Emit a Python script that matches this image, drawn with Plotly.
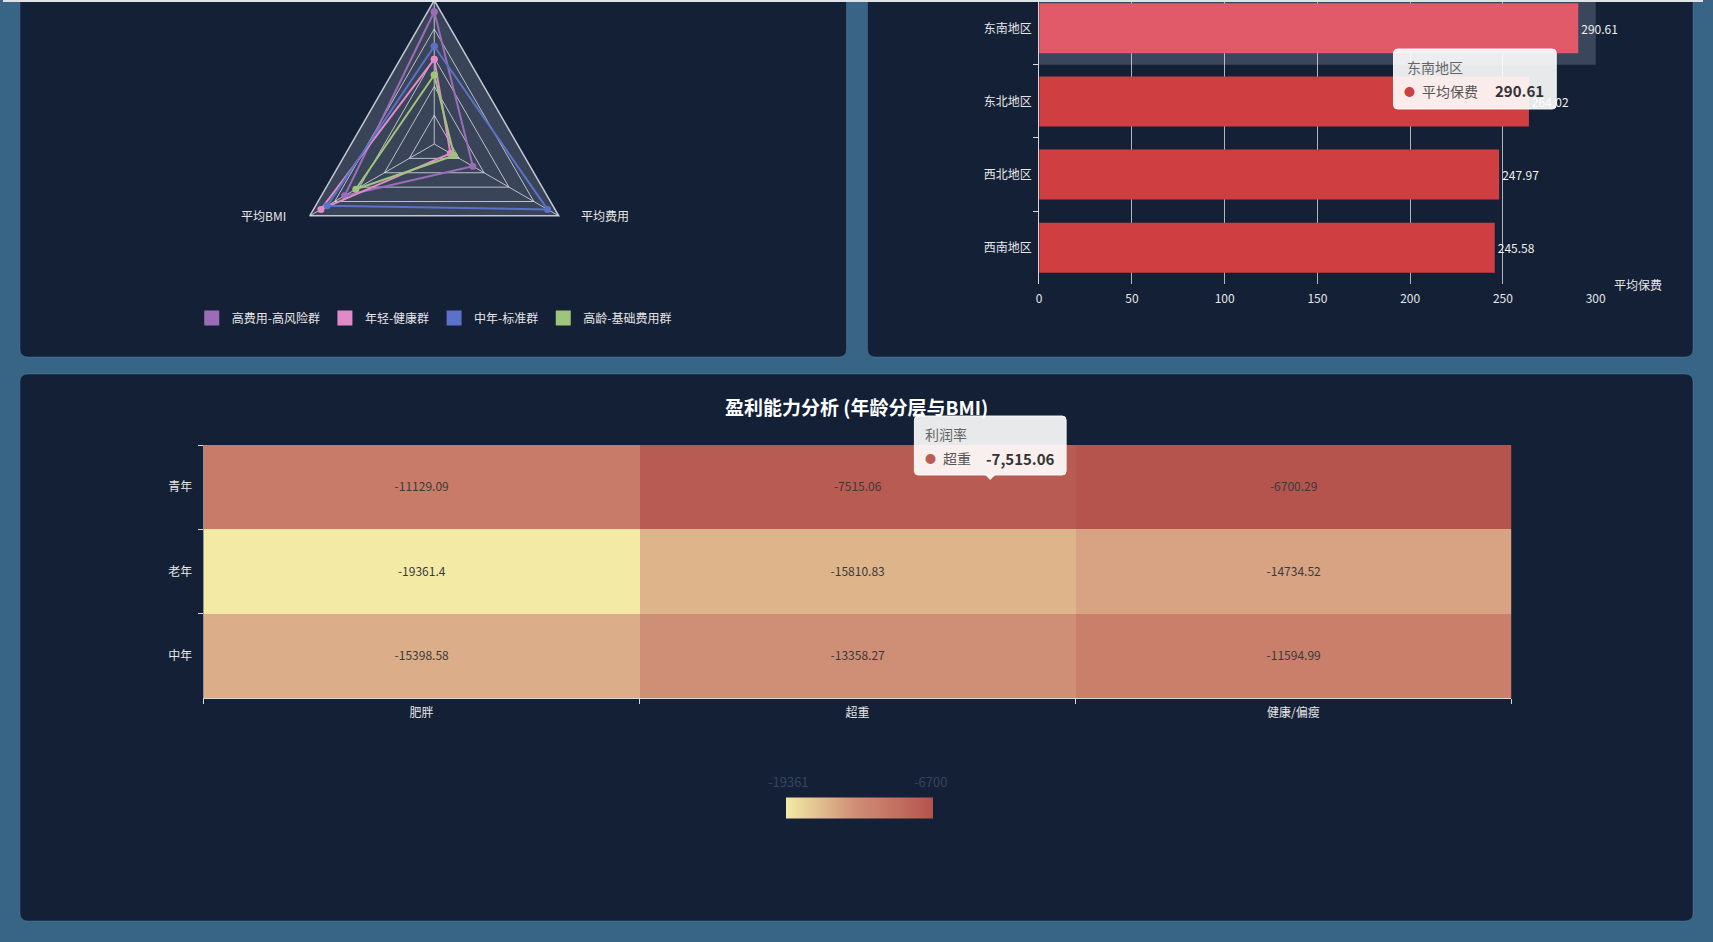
import plotly.graph_objects as go

W, H = 1713, 942
XW = 1703          # effective horizontal extent observed when the page is rendered
FONT = "Noto Sans CJK SC, Noto Sans, sans-serif"

# ---------------- data ----------------
radar_axes = ['平均保费', '平均费用', '平均BMI']          # top label is off-screen in the reference
radar_groups = ['高费用-高风险群', '年轻-健康群', '中年-标准群', '高龄-基础费用群']
high_risk = [92, 31, 72]          # % of each indicator's max
young_healthy = [59, 13, 91]
middle_standard = [68, 91, 86]
senior_basic = [48, 16, 63]
radar_colors = ['#9b6cb8', '#e08bc8', '#5b72c8', '#9ec67a']

regions = ['东南地区', '东北地区', '西北地区', '西南地区']
avg_premium = [290.61, 264.02, 247.97, 245.58]

age_groups = ['青年', '老年', '中年']
bmi_groups = ['肥胖', '超重', '健康/偏瘦']
profit_youth = [-11129.09, -7515.06, -6700.29]
profit_senior = [-19361.4, -15810.83, -14734.52]
profit_middle = [-15398.58, -13358.27, -11594.99]


# ---------------- helpers ----------------
def px(x):
    return x / XW


def py(y):
    return 1 - y / H


def rrect(x0, y0, x1, y1, r=8):
    return (f"M{px(x0 + r)},{py(y0)} L{px(x1 - r)},{py(y0)} "
            f"Q{px(x1)},{py(y0)} {px(x1)},{py(y0 + r)} L{px(x1)},{py(y1 - r)} "
            f"Q{px(x1)},{py(y1)} {px(x1 - r)},{py(y1)} L{px(x0 + r)},{py(y1)} "
            f"Q{px(x0)},{py(y1)} {px(x0)},{py(y1 - r)} L{px(x0)},{py(y0 + r)} "
            f"Q{px(x0)},{py(y0)} {px(x0 + r)},{py(y0)} Z")


fig = go.Figure()

# ---------------- radar ----------------
series = [high_risk, young_healthy, middle_standard, senior_basic]
for name, vals, col in zip(radar_groups, series, radar_colors):
    fig.add_trace(go.Scatterpolar(
        r=vals + [vals[0]], theta=radar_axes + [radar_axes[0]],
        mode='lines+markers', name=name, showlegend=False,
        line=dict(color=col, width=2), marker=dict(color=col, size=7),
        subplot='polar'))
for name, col in zip(radar_groups, radar_colors):
    fig.add_trace(go.Scatterpolar(
        r=[None], theta=[None], mode='markers', name=name, showlegend=True,
        marker=dict(color=col, size=15, symbol='square'), subplot='polar'))

# ---------------- bar ----------------
bar_colors = ['#e05a69'] + ['#cf3e40'] * (len(regions) - 1)
fig.add_trace(go.Bar(
    x=avg_premium, y=regions, orientation='h', xaxis='x2', yaxis='y2',
    marker=dict(color=bar_colors, line=dict(width=0)),
    texttemplate='%{x:.2f}', textposition='outside', cliponaxis=False,
    textfont=dict(color='#f0f0f0', size=12), showlegend=False, name='平均保费'))

# ---------------- heatmap ----------------
z = [profit_youth, profit_senior, profit_middle]
zmin = min(min(r) for r in z)
zmax = max(max(r) for r in z)
fig.add_trace(go.Heatmap(
    z=z, x=bmi_groups, y=age_groups, xaxis='x3', yaxis='y3',
    text=[[str(v) for v in row] for row in z], texttemplate='%{text}',
    textfont=dict(color='#3a3a3a', size=12),
    zmin=zmin, zmax=zmax,
    colorscale=[[0, '#f3eaa6'], [0.3, '#dcb089'], [0.47, '#cf8e76'],
                [0.62, '#ca7e6b'], [1, '#b4544d']],
    colorbar=dict(orientation='h', x=px(858), xanchor='center', y=py(807.5), yanchor='middle',
                  thickness=21, len=167, lenmode='pixels', outlinewidth=0, xpad=10, ypad=0,
                  showticklabels=False, ticks=''),
    showlegend=False, name='利润率'))

axis_font = dict(color='#e6e6e6', size=12, family=FONT)
panel_line = dict(color='rgba(90,150,200,0.35)', width=1)
tip_fill = 'rgba(255,255,255,0.9)'

shapes = [
    dict(type='path', xref='paper', yref='paper', path=rrect(17, -30, 845, 357),
         fillcolor='#142036', line=panel_line, layer='below'),
    dict(type='path', xref='paper', yref='paper', path=rrect(866, -30, 1693, 357),
         fillcolor='#142036', line=panel_line, layer='below'),
    dict(type='path', xref='paper', yref='paper', path=rrect(17, 374, 1693, 921),
         fillcolor='#142036', line=panel_line, layer='below'),
    # hover shadow band on the first bar category
    dict(type='rect', xref='x2 domain', yref='y2', x0=0, x1=1, y0=-0.5, y1=0.5,
         fillcolor='rgba(150,160,180,0.3)', line=dict(width=0), layer='below'),
    # tooltip boxes visible in the reference
    dict(type='path', xref='paper', yref='paper', path=rrect(1393, 49, 1556, 109, 4),
         fillcolor=tip_fill, line=dict(color='rgba(255,255,255,0.9)', width=1), layer='above'),
    dict(type='path', xref='paper', yref='paper', path=rrect(913, 416, 1065, 475, 4),
         fillcolor=tip_fill, line=dict(color='rgba(255,255,255,0.9)', width=1), layer='above'),
    dict(type='path', xref='paper', yref='paper',
         path=f"M{px(984)},{py(475)} L{px(994)},{py(475)} L{px(989)},{py(480)} Z",
         fillcolor=tip_fill, line=dict(width=0), layer='above'),
    # thin light line at the very top of the page
    dict(type='line', xref='paper', yref='paper', x0=0, x1=1, y0=py(1), y1=py(1),
         line=dict(color='#dfe3e8', width=2), layer='above'),
]


def txt(text, x, y, anchor='left', color='#555555', size=14, bold=False):
    t = f"<b>{text}</b>" if bold else text
    return dict(text=t, xref='paper', yref='paper', x=px(x), y=py(y), xanchor=anchor,
                yanchor='middle', showarrow=False, font=dict(color=color, size=size, family=FONT))


annotations = [
    txt('盈利能力分析 (年龄分层与BMI)', 855, 406, anchor='center', color='#ffffff', size=19, bold=True),
    txt(f"{zmin:.0f}", 787, 781, anchor='center', color='#34455c', size=13),
    txt(f"{zmax:.0f}", 929, 781, anchor='center', color='#34455c', size=13),
    dict(text='平均保费', xref='x2 domain', yref='y2 domain', x=1, y=0, xshift=16,
         xanchor='left', yanchor='middle', showarrow=False,
         font=dict(color='#e6e6e6', size=12, family=FONT)),
    # radar axis names (bottom two; the top one is off-screen)
    txt(radar_axes[2], 286, 215, anchor='right', color='#e6e6e6', size=12),
    txt(radar_axes[1], 577, 215, anchor='left', color='#e6e6e6', size=12),
    # tooltip 1 (bar chart)
    txt(regions[0], 1404, 67, color='#666666'),
    txt('●', 1409, 91, anchor='center', color='#cf3e40', size=11),
    txt('平均保费', 1420, 91, color='#555555'),
    txt(f"{avg_premium[0]:.2f}", 1546, 91, anchor='right', color='#333333', size=15, bold=True),
    # tooltip 2 (heatmap)
    txt('利润率', 922, 434, color='#666666'),
    txt('●', 929, 458, anchor='center', color='#b85d52', size=11),
    txt(bmi_groups[1], 940, 458, color='#555555'),
    txt(f"{profit_youth[1]:,.2f}", 1056, 458, anchor='right', color='#333333', size=15, bold=True),
]

fig.update_layout(
    width=W, height=H, margin=dict(l=0, r=0, t=0, b=0),
    paper_bgcolor='#386485', plot_bgcolor='rgba(0,0,0,0)',
    font=dict(family=FONT, color='#e6e6e6', size=12),
    shapes=shapes, annotations=annotations, bargap=0.316,
    legend=dict(orientation='h', x=px(432), xanchor='center', y=py(318), yanchor='middle',
                font=dict(color='#e6e6e6', size=12, family=FONT), bgcolor='rgba(0,0,0,0)',
                itemwidth=30, tracegroupgap=0),
    polar=dict(
        domain=dict(x=[px(432 - 144), px(432 + 144)], y=[py(288), 1]),
        bgcolor='rgba(210,215,225,0.2)', gridshape='linear',
        radialaxis=dict(range=[0, 100], dtick=20, showticklabels=False, ticks='',
                        showline=False, gridcolor='rgba(220,224,230,0.8)', gridwidth=1),
        angularaxis=dict(rotation=90, direction='clockwise', showline=True,
                         showticklabels=False,
                         linecolor='rgba(220,224,230,0.85)', linewidth=1.5,
                         gridcolor='rgba(220,224,230,0.8)', ticks='')),
    xaxis2=dict(domain=[px(1038), px(1595.5)], anchor='y2', range=[0, 300], dtick=50,
                showgrid=True, gridcolor='rgba(215,220,228,0.8)', zeroline=False,
                showline=False, ticks='', tickfont=axis_font, ticklabelstandoff=6),
    yaxis2=dict(domain=[py(284.25), 1], anchor='x2', type='category',
                categoryorder='array', categoryarray=regions, range=[3.5, -0.387],
                showline=True, linecolor='#d8d8d8', ticks='outside', tickson='boundaries',
                ticklen=5, tickcolor='#d8d8d8', showgrid=False, zeroline=False,
                tickfont=axis_font, ticklabelstandoff=4),
    xaxis3=dict(domain=[px(201), px(1511)], anchor='y3', type='category',
                categoryorder='array', categoryarray=bmi_groups,
                showline=True, linecolor='#d8d8d8', ticks='outside', tickson='boundaries',
                ticklen=5, tickcolor='#d8d8d8', showgrid=False, zeroline=False,
                tickfont=axis_font, ticklabelstandoff=4),
    yaxis3=dict(domain=[py(698), py(445)], anchor='x3', type='category',
                categoryorder='array', categoryarray=age_groups, autorange='reversed',
                showline=True, linecolor='rgba(216,216,216,0.6)', ticks='outside',
                tickson='boundaries', ticklen=5, tickcolor='#d8d8d8', showgrid=False,
                zeroline=False, tickfont=axis_font, ticklabelstandoff=8),
)

fig.write_html("out.html", config={"responsive": False})
